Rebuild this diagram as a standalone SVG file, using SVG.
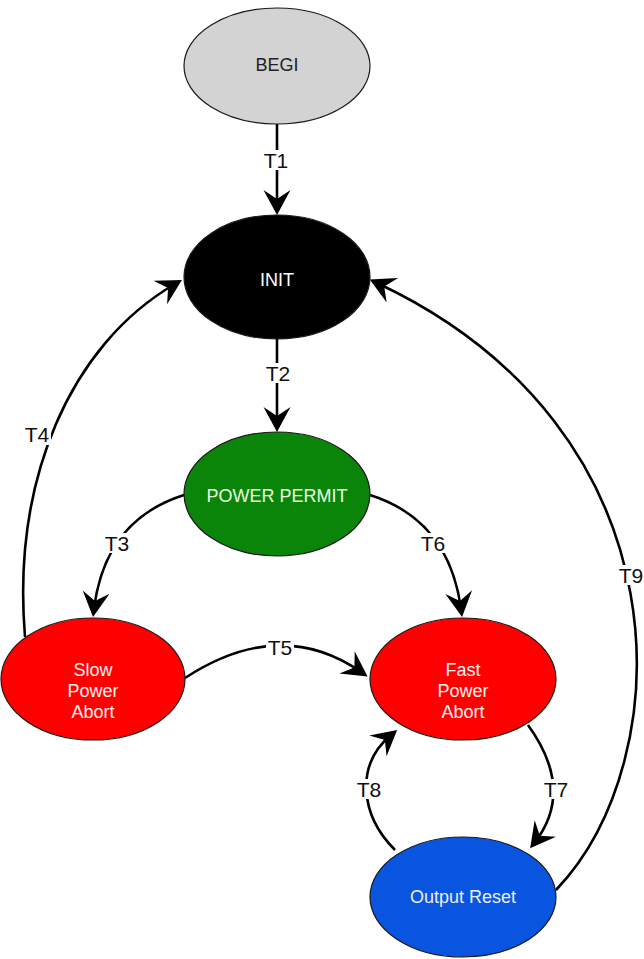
<svg xmlns="http://www.w3.org/2000/svg" width="644" height="959" viewBox="0 0 644 959">
<style>
.node{stroke:#1a1a1a;stroke-width:1.2}
.nt{font-family:"Liberation Sans",Arial,Helvetica,sans-serif;font-size:18px;text-anchor:middle}
.edge{fill:none;stroke:#000;stroke-width:2.6;marker-end:url(#arr)}
.lb{font-family:"Liberation Sans",Arial,Helvetica,sans-serif;font-size:21px;text-anchor:middle;fill:#111}
.lbg{fill:#fff}
</style>
<defs>
<marker id="arr" markerUnits="userSpaceOnUse" markerWidth="30" markerHeight="30" refX="17" refY="13.5" orient="auto">
<path d="M0,0 L25,13.5 L0,27 L9,13.5 z" fill="#000"/>
</marker>
</defs>
<rect width="644" height="959" fill="#fff"/>
<g id="connectors">
<path class="edge" d="M277,124 L277,207"/>
<path class="edge" d="M277,339 L277,424"/>
<path class="edge" d="M184,495 Q105,520 94,609"/>
<path class="edge" d="M370,495 Q449,520 461,609"/>
<path class="edge" d="M25,637 C12,480 70,345 175,284"/>
<path class="edge" d="M185,678 Q280,616 361,672"/>
<path class="edge" d="M528,725 Q575,790 535,842"/>
<path class="edge" d="M395,850 C360,815 355,765 391,735"/>
<path class="edge" d="M556,890 C680,760 690,430 377,283"/>
<g id="labels">
<rect class="lbg" x="263" y="150" width="28" height="20"/><text class="lb" x="276" y="168">T1</text>
<rect class="lbg" x="264" y="363" width="28" height="20"/><text class="lb" x="278" y="381">T2</text>
<rect class="lbg" x="103" y="533" width="28" height="20"/><text class="lb" x="117" y="551">T3</text>
<rect class="lbg" x="23" y="425" width="28" height="20"/><text class="lb" x="37" y="442">T4</text>
<rect class="lbg" x="266" y="637" width="28" height="20"/><text class="lb" x="280" y="655">T5</text>
<rect class="lbg" x="419" y="533" width="28" height="20"/><text class="lb" x="433" y="551">T6</text>
<rect class="lbg" x="542" y="779" width="28" height="20"/><text class="lb" x="556" y="797">T7</text>
<rect class="lbg" x="355" y="779" width="28" height="20"/><text class="lb" x="369" y="797">T8</text>
<rect class="lbg" x="617" y="565" width="28" height="20"/><text class="lb" x="631" y="583">T9</text>
</g>
</g>
<g id="begi">
<ellipse class="node" cx="277" cy="66" rx="93" ry="58" fill="#d3d3d3"/>
<text class="nt" x="277" y="71" fill="#222">BEGI</text>
</g>
<g id="init">
<ellipse class="node" cx="277" cy="277" rx="93" ry="62" fill="#000"/>
<text class="nt" x="277" y="286" fill="#fff">INIT</text>
</g>
<g id="power-permit">
<ellipse class="node" cx="277" cy="494" rx="93" ry="62" fill="#0a850a"/>
<text class="nt" x="277" y="502" fill="#e6ffe0">POWER PERMIT</text>
</g>
<g id="slow-power-abort">
<ellipse class="node" cx="93" cy="679" rx="92" ry="61" fill="#ff0000"/>
<text class="nt" x="93" y="676" fill="#fff2f2">Slow</text>
<text class="nt" x="93" y="697" fill="#fff2f2">Power</text>
<text class="nt" x="93" y="718" fill="#fff2f2">Abort</text>
</g>
<g id="fast-power-abort">
<ellipse class="node" cx="463" cy="679" rx="93" ry="61" fill="#ff0000"/>
<text class="nt" x="463" y="676" fill="#fff2f2">Fast</text>
<text class="nt" x="463" y="697" fill="#fff2f2">Power</text>
<text class="nt" x="463" y="718" fill="#fff2f2">Abort</text>
</g>
<g id="output-reset">
<ellipse class="node" cx="463" cy="897" rx="93" ry="60" fill="#0a55e0"/>
<text class="nt" x="463" y="903" fill="#eaf0ff">Output Reset</text>
</g>
</svg>
